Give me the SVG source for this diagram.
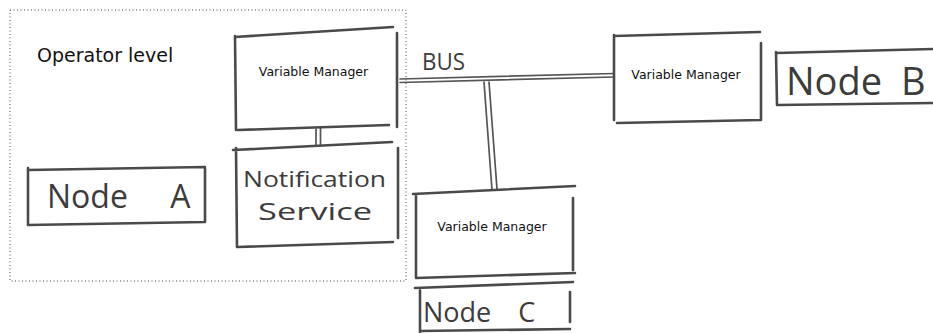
<svg xmlns="http://www.w3.org/2000/svg" width="933" height="333" viewBox="0 0 933 333">
<style>
.sk{fill:none;stroke:#4a4a4a;stroke-width:2.6;stroke-linecap:round;stroke-linejoin:round}
.dl{fill:none;stroke:#555;stroke-width:1.7;stroke-linecap:round}
.lbl{font-family:"DejaVu Sans",sans-serif;fill:#111}
.hw{font-family:"Open Sans","DejaVu Sans",sans-serif;font-weight:400;fill:#3c3c3c}
</style>
<rect width="933" height="333" fill="#fff"/>
<g id="operator-level">
<rect x="10" y="10" width="396" height="271" fill="none" stroke="#444" stroke-width="1" stroke-dasharray="1 2.5"/>
<text class="lbl" x="37" y="62" font-size="19">Operator level</text>
</g>
<g id="connectors">
<path class="dl" d="M400,79 L614,73.5"/>
<path class="dl" d="M400,82.5 L614,77"/>
<path class="dl" d="M484,82 L492,190"/>
<path class="dl" d="M489,82 L497,189"/>
<path class="dl" d="M316,129 L316,146"/>
<path class="dl" d="M320.5,128 L320.5,145"/>
<text class="hw" x="422" y="70" font-size="24" textLength="43" lengthAdjust="spacingAndGlyphs">BUS</text>
</g>
<g id="vm-top">
<path class="sk" d="M235,37 L393,27 M235,36 L236,130 M397,33 L397,127 M238,130 L389,125"/>
<text class="lbl" x="313.5" y="76" font-size="12.5" text-anchor="middle">Variable Manager</text>
</g>
<g id="notification-service">
<path class="sk" d="M233,150 L392,142 M236,148 L237,247 M398,148 L398,238 M238,247 L393,242"/>
<text class="hw" x="243" y="187" font-size="21" textLength="143" lengthAdjust="spacingAndGlyphs">Notification</text>
<text class="hw" x="258" y="220" font-size="24" textLength="114" lengthAdjust="spacingAndGlyphs">Service</text>
</g>
<g id="node-a">
<path class="sk" d="M28,170 L205,167 M28,168 L28,225 M205,168 L205,222 M28,225 L205,222"/>
<text class="hw" x="47" y="208" font-size="32" word-spacing="34">Node A</text>
</g>
<g id="vm-right">
<path class="sk" d="M614,36 L760,32 M614,35 L614,120 M761,43 L761,120 M617,123 L761,120"/>
<text class="lbl" x="686" y="79" font-size="12.5" text-anchor="middle">Variable Manager</text>
</g>
<g id="node-b">
<path class="sk" d="M776,53 L933,49 M776,52 L777,105 M778,105 L933,103"/>
<text class="hw" x="786" y="95" font-size="38" word-spacing="9">Node B</text>
</g>
<g id="vm-bottom">
<path class="sk" d="M413,194 L575,186 M416,194 L416,277 M573,198 L573,270 M416,278 L575,273"/>
<text class="lbl" x="492" y="231" font-size="12.5" text-anchor="middle">Variable Manager</text>
</g>
<g id="node-c">
<path class="sk" d="M415,288 L573,282 M420,290 L420,333 M570,292 L570,322 M420,331 L570,329"/>
<text class="hw" x="423" y="322" font-size="27" word-spacing="20">Node C</text>
</g>
</svg>
